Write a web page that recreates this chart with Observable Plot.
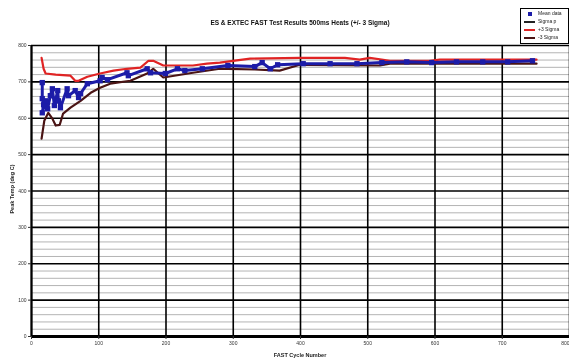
<!DOCTYPE html>
<html><head><meta charset="utf-8">
<script src="https://cdn.jsdelivr.net/npm/d3@7"></script>
<script src="https://cdn.jsdelivr.net/npm/@observablehq/plot@0.6"></script>
<style>
body{margin:0;background:#fff;font-family:"Liberation Sans",Arial,sans-serif;}
#wrap{position:relative;width:569px;height:359px;overflow:hidden;filter:blur(0.4px);}
#chart{position:absolute;left:0;top:0;}
#title{position:absolute;left:0;width:600px;top:19px;text-align:center;font-size:6.5px;font-weight:bold;color:#111;white-space:nowrap;}
#legend{position:absolute;left:520px;top:8px;width:47px;height:34px;border:1px solid #000;background:#fff;overflow:hidden;}
.li{position:absolute;left:3px;height:8px;font-size:5px;line-height:8px;color:#222;white-space:nowrap;}
.sw{display:inline-block;width:11px;vertical-align:middle;margin-right:3px;}
#ytitle{position:absolute;left:12px;top:189px;transform:translate(-50%,-50%) rotate(-90deg);font-size:5.5px;font-weight:bold;white-space:nowrap;color:#222;}
#xtitle{position:absolute;left:300px;top:355px;transform:translate(-50%,-50%);font-size:5.5px;font-weight:bold;white-space:nowrap;color:#222;}
</style></head>
<body>
<div id="wrap">
  <div id="chart"></div>
  <div id="title">ES &amp; EXTEC FAST Test Results 500ms Heats (+/- 3 Sigma)</div>
  <div id="legend"></div>
  <div id="ytitle">Peak Temp (deg C)</div>
  <div id="xtitle">FAST Cycle Number</div>
</div>
<script>
// tick values
const xTicks = [0,100,200,300,400,500,600,700,800];
const yTicks = [0,100,200,300,400,500,600,700,800];
const yMinorStep = 20;

// legend labels
const seriesNames = ["Mean data","Sigma p","+3 Sigma","-3 Sigma"];
const seriesColors = ["#1c1ca8","#222222","#e02424","#4a1414"];

// +3 sigma series
const plusX = [15,18,21,36,58,65,70,83,102,122,142,162,174,181,196,240,261,280,325,399,466,488,503,533,592,607,751];
const plusY = [766,736,723,720,717,703,703,714,723,731,736,739,758,758,745,745,750,753,764,766,766,761,766,758,758,761,761];

// -3 sigma series
const minusX = [15,19,25,31,36,42,47,58,73,88,102,117,147,172,181,196,240,280,292,332,369,399,518,533,751];
const minusY = [544,593,615,599,580,582,613,629,648,670,684,695,703,723,736,712,725,736,736,734,731,747,745,750,750];

// mean data series
const meanX = [16,16,18,16,21,24,28,31,34,39,40,43,53,55,65,70,73,83,102,105,113,142,144,172,177,199,217,228,254,292,332,343,355,366,404,444,484,521,558,595,632,671,708,745];
const meanY = [698,654,637,615,648,626,662,681,635,676,648,629,681,662,676,657,668,695,703,712,706,725,717,736,725,723,736,731,736,745,742,753,736,747,750,750,750,753,755,753,755,755,755,758];

const plus = plusX.map((x,i)=>({x, y: plusY[i]}));
const minus = minusX.map((x,i)=>({x, y: minusY[i]}));
const mean = meanX.map((x,i)=>({x, y: meanY[i]}));
const yMinor = d3.range(0, 801, yMinorStep).filter(v => !yTicks.includes(v));

const chart = Plot.plot({
  width: 569, height: 359,
  marginLeft: 31, marginRight: 0, marginTop: 45, marginBottom: 23,
  style: {fontSize: "5px", fontFamily: "Liberation Sans, Arial, sans-serif", color: "#333", background: "#fff"},
  x: {domain: [0,800], label: null},
  y: {domain: [0,800], label: null},
  marks: [
    Plot.ruleY(yMinor, {stroke: "#b4b4b4", strokeWidth: 1}),
    Plot.ruleY(yTicks, {stroke: "#000", strokeWidth: 1.6}),
    Plot.ruleX(xTicks, {stroke: "#000", strokeWidth: 1.6}),
    Plot.ruleY([0], {stroke: "#000", strokeWidth: 3}),
    Plot.ruleX([0], {stroke: "#000", strokeWidth: 2}),
    Plot.axisY(yTicks, {tickSize: 3, tickPadding: 2, label: null, tickFormat: d => String(d)}),
    Plot.axisX(xTicks.slice(0, -1), {tickSize: 3, tickPadding: 2, label: null, tickFormat: d => String(d)}),
    Plot.axisX(xTicks.slice(-1), {tickSize: 3, tickPadding: 2, label: null, textAnchor: "end", tickFormat: d => String(d)}),
    Plot.line(plus, {x: "x", y: "y", stroke: seriesColors[2], strokeWidth: 2.2}),
    Plot.line(minus, {x: "x", y: "y", stroke: seriesColors[3], strokeWidth: 2.2}),
    Plot.line(mean, {x: "x", y: "y", stroke: seriesColors[0], strokeWidth: 3}),
    Plot.dot(mean, {x: "x", y: "y", symbol: "square", fill: seriesColors[0], r: 3})
  ]
});
document.getElementById("chart").appendChild(chart);

const leg = document.getElementById("legend");
seriesNames.forEach((n,i) => {
  const d = document.createElement("div");
  d.className = "li";
  d.style.top = (i*8) + "px";
  const sw = document.createElement("span");
  sw.className = "sw";
  if (i === 0) {
    sw.style.height = "4px"; sw.style.width = "4px"; sw.style.background = seriesColors[0];
    sw.style.marginLeft = "4px"; sw.style.marginRight = "6px";
  } else {
    sw.style.height = "2px"; sw.style.background = seriesColors[i];
  }
  d.appendChild(sw);
  d.appendChild(document.createTextNode(n));
  leg.appendChild(d);
});
</script>
</body></html>
